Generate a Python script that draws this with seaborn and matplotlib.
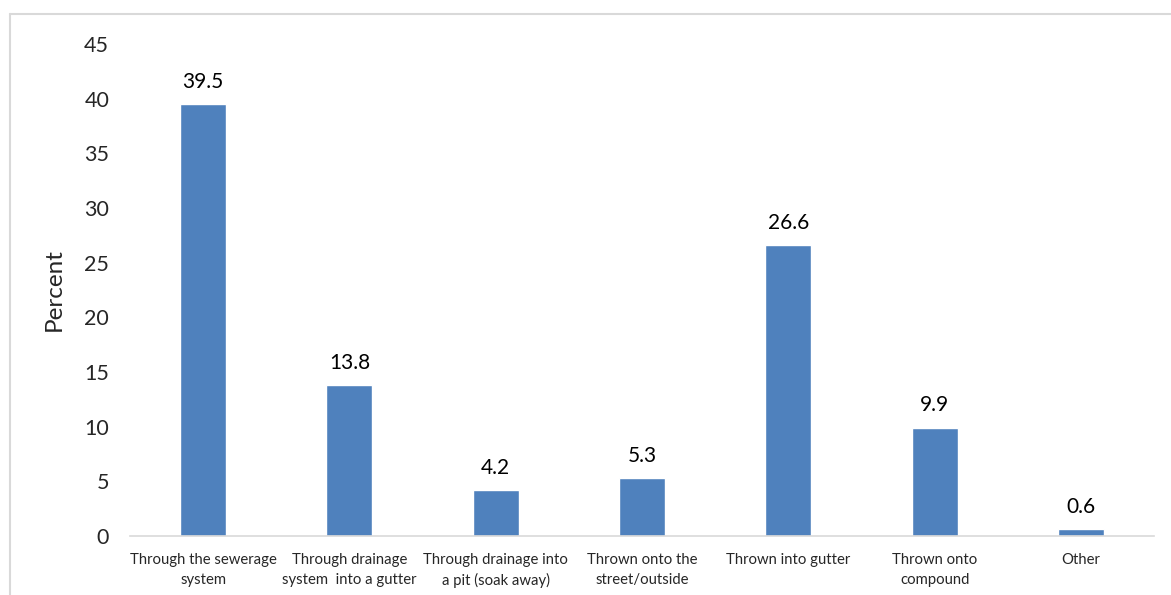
import matplotlib
matplotlib.use("Agg")
import matplotlib.pyplot as plt
from matplotlib.lines import Line2D
import seaborn as sns
import pandas as pd

# Data
categories = [
    "Through the sewerage\nsystem",
    "Through drainage\nsystem  into a gutter",
    "Through drainage into\na pit (soak away)",
    "Thrown onto the\nstreet/outside",
    "Thrown into gutter",
    "Thrown onto\ncompound",
    "Other",
]
percent = [39.5, 13.8, 4.2, 5.3, 26.6, 9.9, 0.6]
y_ticks = [0, 5, 10, 15, 20, 25, 30, 35, 40, 45]

df = pd.DataFrame({"category": categories, "percent": percent})

sns.set_style("white")
plt.rcParams["font.family"] = ["Lato", "DejaVu Sans"]

W, H = 1171, 595
fig = plt.figure(figsize=(W / 100, H / 100), dpi=100)
ax = fig.add_axes([130 / W, 1 - 536 / H, (1154 - 130) / W, (536 - 44) / H])

sns.barplot(data=df, x="category", y="percent", color="#4f81bd",
            saturation=1, width=0.315, ax=ax)

for i, v in enumerate(percent):
    ax.annotate(f"{v}", (i, v), xytext=(0, 9), textcoords="offset points",
                ha="center", va="bottom", fontsize=15, color="#000000")

ax.set_ylim(0, 45)
ax.set_yticks(y_ticks)
ax.set_xlim(-0.5, len(categories) - 0.5)
ax.tick_params(axis="y", length=0, pad=15, labelsize=15.5)
ax.tick_params(axis="x", length=0, pad=12, labelsize=10.7)
for lbl in ax.get_xticklabels():
    lbl.set_linespacing(1.55)
ax.set_xlabel("")
ax.set_ylabel("Percent", fontsize=17.5, labelpad=14)

for s in ["top", "right", "left"]:
    ax.spines[s].set_visible(False)
ax.spines["bottom"].set_color("#d9d9d9")
ax.spines["bottom"].set_linewidth(1.2)

# outer chart frame
fig.add_artist(Line2D([10 / W, 1], [1 - 14 / H, 1 - 14 / H], color="#d9d9d9", lw=1.5))
fig.add_artist(Line2D([10 / W, 10 / W], [0, 1 - 14 / H], color="#d9d9d9", lw=1.5))

fig.savefig("out.png", dpi=100)
